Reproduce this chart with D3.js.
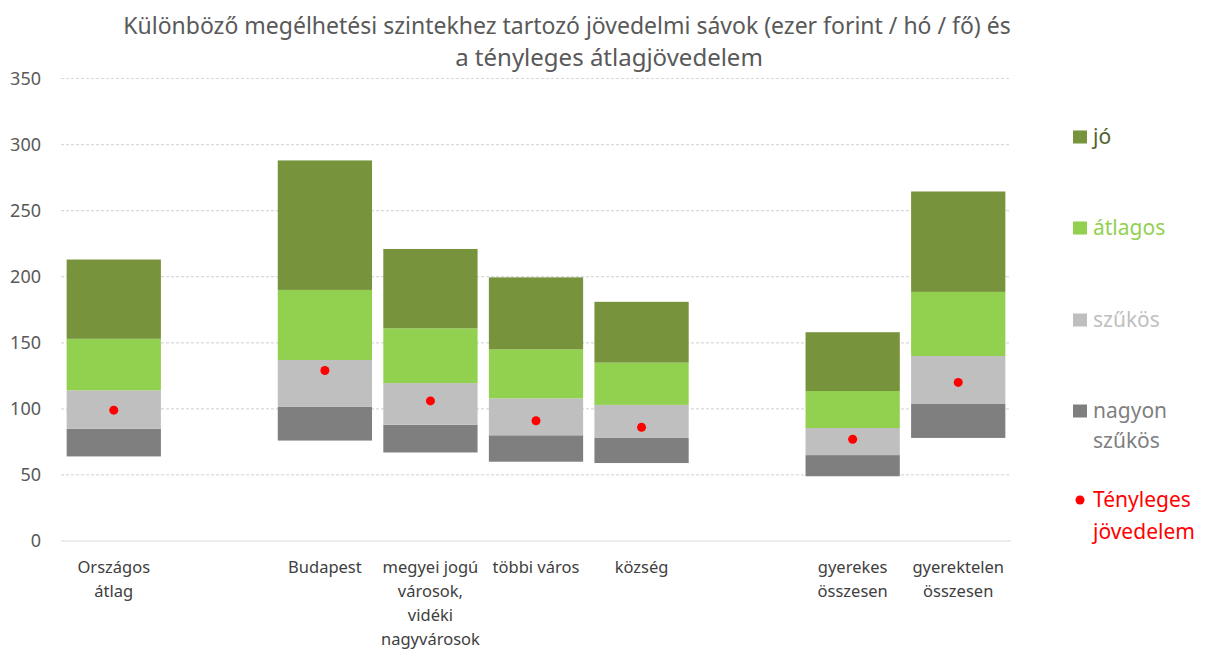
<!DOCTYPE html>
<html lang="hu">
<head>
  <meta charset="UTF-8">
  <title>Megélhetési szintek és jövedelem</title>
  <script src="https://d3js.org/d3.v7.min.js"></script>
  <style>
    body {
      margin: 0;
      background: #fff;
      font-family: "Noto Sans", "Open Sans", sans-serif;
    }
  </style>
</head>
<body>
  <div id="chart"></div>

  <script>
    // kategóriák (üres = szünet a csoportok között)
    const categories = ["Országos átlag", "", "Budapest", "megyei jogú városok, vidéki nagyvárosok",
      "többi város", "község", "", "gyerekes összesen", "gyerektelen összesen"];
    const labelLines = [["Országos", "átlag"], [], ["Budapest"], ["megyei jogú", "városok,", "vidéki", "nagyvárosok"],
      ["többi város"], ["község"], [], ["gyerekes", "összesen"], ["gyerektelen", "összesen"]];

    // sávok (ezer Ft / hó / fő) – az alap láthatatlan
    const base         = [64, 0, 76, 67, 60, 59, 0, 49, 78];
    const nagyonSzukos = [21, 0, 25.5, 21, 20, 19, 0, 16, 26];
    const szukos       = [29, 0, 35.5, 31.5, 28, 25, 0, 20.5, 36];
    const atlagos      = [39, 0, 53, 41.5, 37, 32, 0, 28, 48.5];
    const jo           = [60, 0, 98, 60, 54.5, 46, 0, 44.5, 76];
    const tenyleges    = [99, null, 129, 106, 91, 86, null, 77, 120];

    const yTicks = [0, 50, 100, 150, 200, 250, 300, 350];

    const series = [
      { key: "nagyonSzukos", name: ["nagyon", "szűkös"], color: "#7f7f7f", text: "#7f7f7f" },
      { key: "szukos", name: ["szűkös"], color: "#bfbfbf", text: "#bfbfbf" },
      { key: "atlagos", name: ["átlagos"], color: "#92d050", text: "#92d050" },
      { key: "jo", name: ["jó"], color: "#77933c", text: "#4f6228" }
    ];

    const width = 1207, height = 650;
    const plot = { left: 61, right: 1011, top: 78.5, bottom: 541 };

    const svg = d3.select("#chart").append("svg")
      .attr("width", width)
      .attr("height", height);

    const rows = categories.map((c, i) => ({
      cat: c, base: base[i], nagyonSzukos: nagyonSzukos[i], szukos: szukos[i],
      atlagos: atlagos[i], jo: jo[i], tenyleges: tenyleges[i]
    }));

    const x = d3.scaleBand()
      .domain(d3.range(categories.length))
      .range([plot.left, plot.right])
      .paddingInner(0.107)
      .paddingOuter(0.0535);

    const y = d3.scaleLinear()
      .domain([0, 350])
      .range([plot.bottom, plot.top]);

    // title
    const title = svg.append("g")
      .attr("fill", "#595959")
      .style("font-size", "23px");
    title.append("text").attr("x", 567).attr("y", 34).attr("text-anchor", "middle")
      .text("Különböző megélhetési szintekhez tartozó jövedelmi sávok (ezer forint / hó / fő) és");
    title.append("text").attr("x", 609).attr("y", 66).attr("text-anchor", "middle")
      .style("font-size", "24px")
      .text("a tényleges átlagjövedelem");

    // grid
    svg.append("g")
      .selectAll("line")
      .data(yTicks)
      .join("line")
      .attr("x1", plot.left)
      .attr("x2", plot.right)
      .attr("y1", d => y(d))
      .attr("y2", d => y(d))
      .attr("stroke", "#d9d9d9")
      .attr("stroke-width", 1.2)
      .attr("stroke-dasharray", d => d === 0 ? null : "3,2");

    // y axis
    const yAxis = svg.append("g")
      .attr("transform", `translate(${plot.left - 16},0)`)
      .call(d3.axisLeft(y).tickValues(yTicks).tickSize(0).tickPadding(4));
    yAxis.select(".domain").remove();
    yAxis.selectAll("text")
      .attr("fill", "#595959")
      .style("font-family", "'Noto Sans', sans-serif")
      .style("font-size", "18px");

    // stacked bars
    const stack = d3.stack().keys(["base"].concat(series.map(s => s.key)));
    const stacked = stack(rows).filter(l => l.key !== "base");
    const colorOf = Object.fromEntries(series.map(s => [s.key, s.color]));

    svg.append("g")
      .selectAll("g")
      .data(stacked)
      .join("g")
      .attr("fill", d => colorOf[d.key])
      .selectAll("rect")
      .data(d => d.map((v, i) => ({ v, i })).filter(e => e.v[1] > e.v[0]))
      .join("rect")
      .attr("x", d => x(d.i))
      .attr("width", x.bandwidth())
      .attr("y", d => y(d.v[1]))
      .attr("height", d => y(d.v[0]) - y(d.v[1]));

    // tényleges jövedelem pontok
    svg.append("g")
      .selectAll("circle")
      .data(rows.map((r, i) => ({ v: r.tenyleges, i })).filter(d => d.v != null))
      .join("circle")
      .attr("cx", d => x(d.i) + x.bandwidth() / 2)
      .attr("cy", d => y(d.v))
      .attr("r", 4.5)
      .attr("fill", "#ff0000");

    // x labels
    const xl = svg.append("g")
      .attr("fill", "#404040")
      .style("font-size", "16.5px");
    labelLines.forEach((lines, i) => {
      lines.forEach((t, j) => {
        xl.append("text")
          .attr("x", x(i) + x.bandwidth() / 2)
          .attr("y", 573 + j * 24)
          .attr("text-anchor", "middle")
          .text(t);
      });
    });

    // legend
    const legendItems = [
      { s: series[3], y: 137 },
      { s: series[2], y: 228 },
      { s: series[1], y: 320 },
      { s: series[0], y: 411 }
    ];
    const lg = svg.append("g").style("font-size", "21px");
    legendItems.forEach(d => {
      lg.append("rect")
        .attr("x", 1073).attr("y", d.y - 6.5)
        .attr("width", 14).attr("height", 13)
        .attr("fill", d.s.color);
      d.s.name.forEach((t, j) => {
        lg.append("text")
          .attr("x", 1093).attr("y", d.y + 7 + j * 30)
          .attr("fill", d.s.text)
          .text(t);
      });
    });
    lg.append("circle")
      .attr("cx", 1080).attr("cy", 500).attr("r", 4.5)
      .attr("fill", "#ff0000");
    ["Tényleges", "jövedelem"].forEach((t, j) => {
      lg.append("text")
        .attr("x", 1093).attr("y", 507 + j * 32)
        .attr("fill", "#ff0000")
        .text(t);
    });
  </script>
</body>
</html>
